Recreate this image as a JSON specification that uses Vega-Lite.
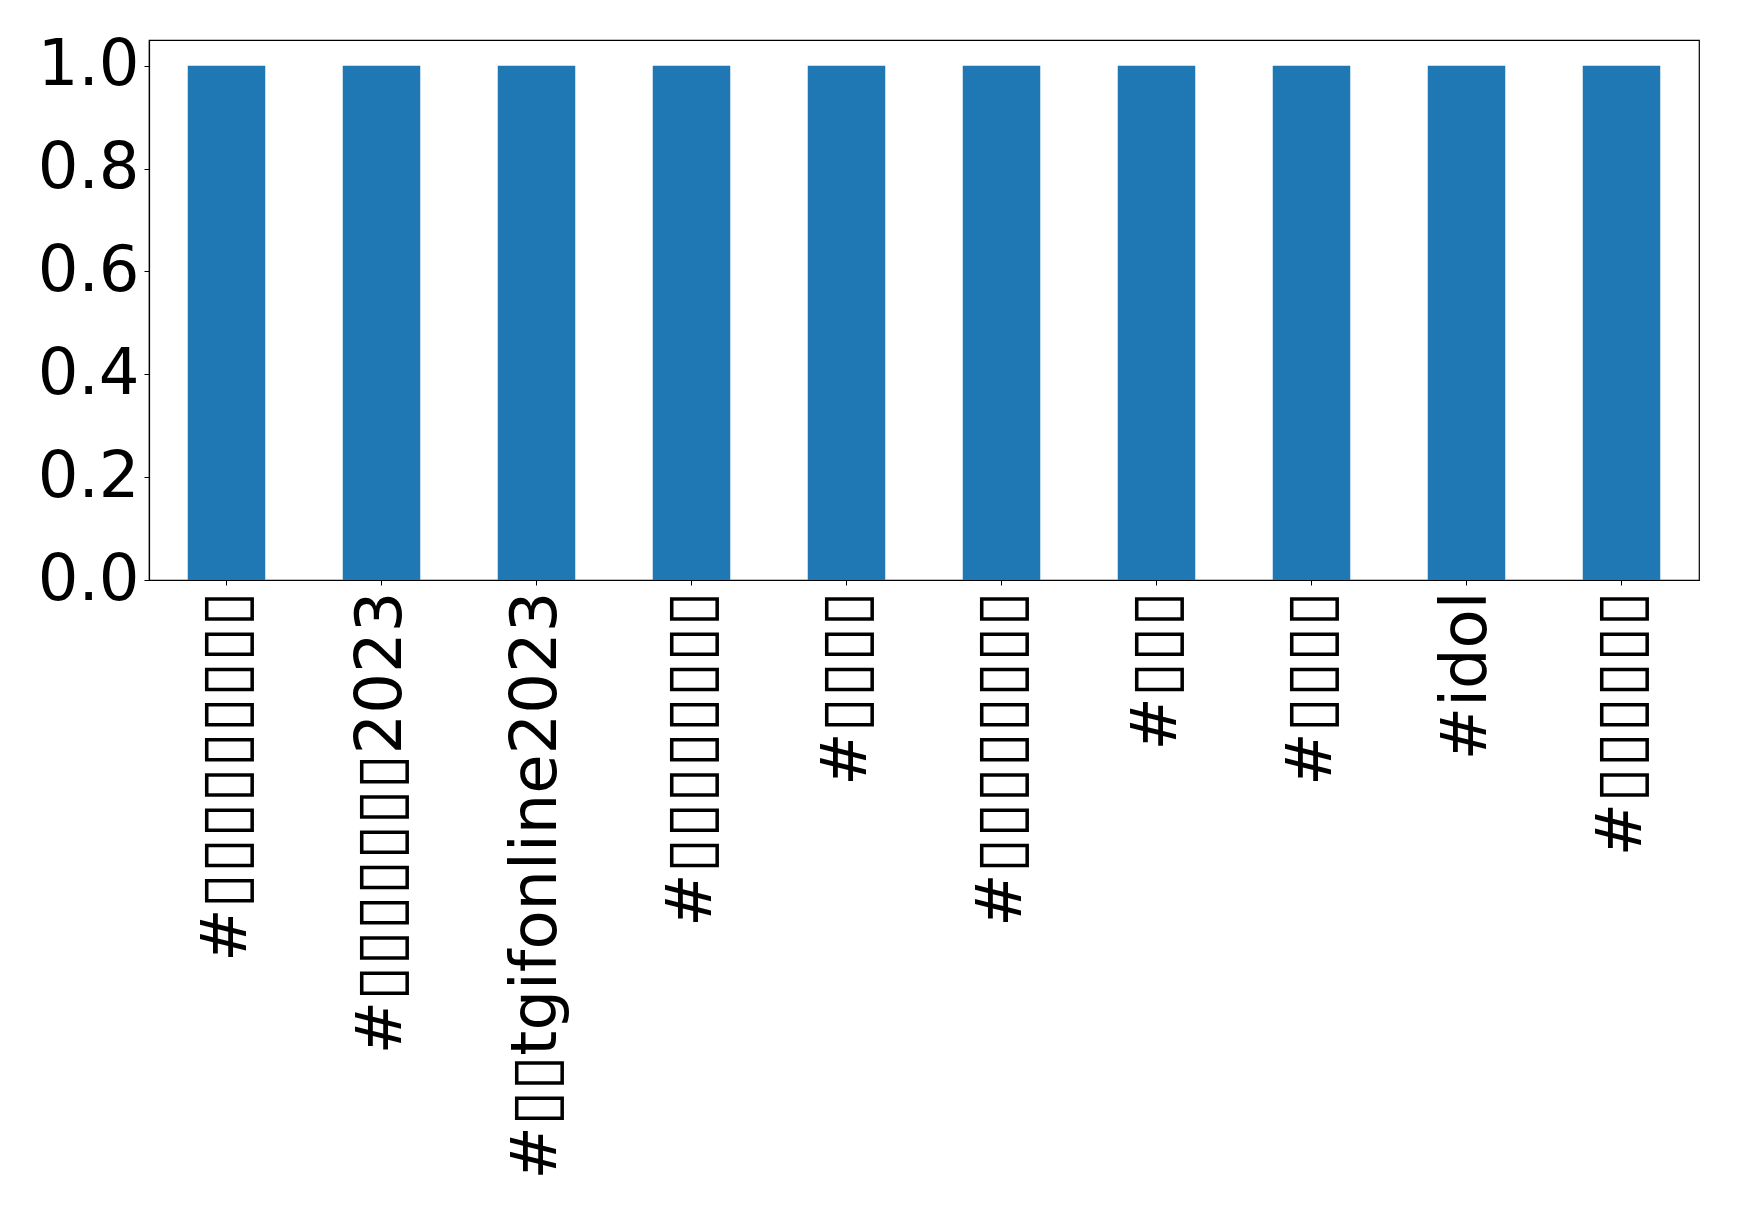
{
  "$schema": "https://vega.github.io/schema/vega-lite/v6.json",
  "autosize": {"type": "none"},
  "padding": {"left": 149, "top": 40, "right": 40, "bottom": 629},
  "width": 1550,
  "height": 540,
  "background": "white",
  "config": {
    "view": {"stroke": "black", "strokeWidth": 1.2},
    "font": "DejaVu Sans"
  },
  "data": {
    "values": [
      {"tag": "#▯▯▯▯▯▯▯▯▯", "value": 1},
      {"tag": "#▯▯▯▯▯▯▯2023", "value": 1},
      {"tag": "#▯▯tgifonline2023", "value": 1},
      {"tag": "#▯▯▯▯▯▯▯▯", "value": 1},
      {"tag": "#▯▯▯▯", "value": 1},
      {"tag": "#▯▯▯▯▯▯▯▯ ", "value": 1},
      {"tag": "#▯▯▯", "value": 1},
      {"tag": "#▯▯▯▯ ", "value": 1},
      {"tag": "#idol", "value": 1},
      {"tag": "#▯▯▯▯▯▯", "value": 1}
    ]
  },
  "mark": {"type": "bar", "color": "#1f77b4"},
  "encoding": {
    "x": {
      "field": "tag",
      "type": "nominal",
      "sort": null,
      "scale": {"paddingInner": 0.5, "paddingOuter": 0.25},
      "axis": {
        "title": null,
        "labelAngle": -90,
        "labelFontSize": 64,
        "labelColor": "black",
        "labelFont": "DejaVu Sans",
        "labelPadding": 6,
        "labelLimit": 0,
        "tickSize": 5,
        "tickColor": "black",
        "domainColor": "black",
        "domainWidth": 1.2
      }
    },
    "y": {
      "field": "value",
      "type": "quantitative",
      "scale": {"domain": [0, 1.05], "nice": false, "zero": true},
      "axis": {
        "title": null,
        "values": [0, 0.2, 0.4, 0.6, 0.8, 1.0],
        "format": ".1f",
        "grid": false,
        "labelFontSize": 64,
        "labelColor": "black",
        "labelFont": "DejaVu Sans",
        "labelPadding": 5,
        "tickSize": 5,
        "tickColor": "black",
        "domainColor": "black",
        "domainWidth": 1.2
      }
    }
  }
}
